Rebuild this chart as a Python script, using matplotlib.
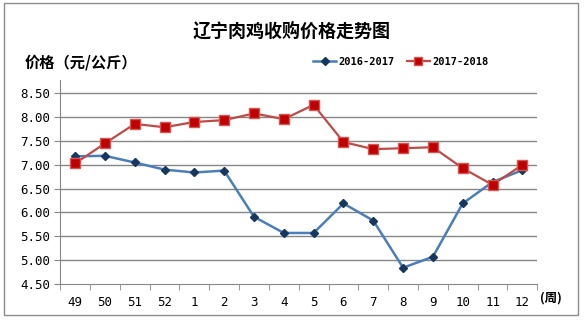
import matplotlib
matplotlib.use('Agg')
from matplotlib import pyplot as plt
from matplotlib.patches import Rectangle

weeks = ['49', '50', '51', '52', '1', '2', '3', '4', '5', '6', '7', '8', '9', '10', '11', '12']
price_2016_2017 = [7.18, 7.19, 7.05, 6.90, 6.84, 6.88, 5.91, 5.57, 5.57, 6.19, 5.83, 4.84, 5.07, 6.19, 6.64, 6.89]
price_2017_2018 = [7.03, 7.45, 7.86, 7.79, 7.90, 7.94, 8.08, 7.96, 8.26, 7.48, 7.33, 7.35, 7.37, 6.93, 6.58, 7.00]
yticks = [4.5, 5.0, 5.5, 6.0, 6.5, 7.0, 7.5, 8.0, 8.5]

plt.rcParams['font.family'] = ['Noto Sans CJK SC', 'DejaVu Sans']

fig = plt.figure(figsize=(5.84, 3.23), dpi=100)
fig.patches.append(Rectangle((0.007, 0.025), 0.983, 0.965, transform=fig.transFigure,
                             fill=False, edgecolor='#8c8c8c', linewidth=1))

ax = fig.add_axes([0.103, 0.121, 0.817, 0.631])
x = list(range(len(weeks)))

ax.plot(x, price_2016_2017, color='#4a7ebb', linewidth=1.8, marker='D', markersize=4.5,
        markerfacecolor='#17375e', markeredgecolor='#17375e', label='2016-2017', zorder=3)
ax.plot(x, price_2017_2018, color='#be4b48', linewidth=1.6, marker='s', markersize=7,
        markerfacecolor='#c00000', markeredgecolor='#d9534f', label='2017-2018', zorder=3)

ax.set_xlim(-0.5, len(weeks) - 0.5)
ax.set_ylim(4.5, 8.78)
ax.set_yticks(yticks)
ax.set_yticklabels(['%.2f' % v for v in yticks], family='DejaVu Sans Mono', fontsize=9)
ax.set_xticks(x)
ax.set_xticklabels(weeks, family='DejaVu Sans Mono', fontsize=9)
ax.set_xticks([i - 0.5 for i in range(len(weeks) + 1)], minor=True)
ax.tick_params(axis='x', which='major', length=0, pad=9)
ax.tick_params(axis='x', which='minor', length=4, color='#868686')
ax.tick_params(axis='y', length=4, color='#868686', pad=3)

for v in yticks[1:]:
    ax.axhline(v, color='#868686', linewidth=1, zorder=1)
for s in ['top', 'right']:
    ax.spines[s].set_visible(False)
ax.spines['left'].set_color('#868686')
ax.spines['bottom'].set_color('#868686')

fig.text(0.5, 0.905, '辽宁肉鸡收购价格走势图', ha='center', va='center', fontsize=13, fontweight='bold')
fig.text(0.043, 0.808, '价格（元/公斤）', ha='left', va='center', fontsize=11, fontweight='bold')
fig.text(0.925, 0.078, '(周)', ha='left', va='center', fontsize=9, fontweight='bold')

fig.legend(loc='center right', bbox_to_anchor=(0.852, 0.808), ncol=2, frameon=False,
           prop={'family': 'DejaVu Sans Mono', 'weight': 'bold', 'size': 7.5},
           handlelength=2.2, columnspacing=1.2, handletextpad=0.2, markerscale=0.8)

fig.savefig('out.png', dpi=100)
